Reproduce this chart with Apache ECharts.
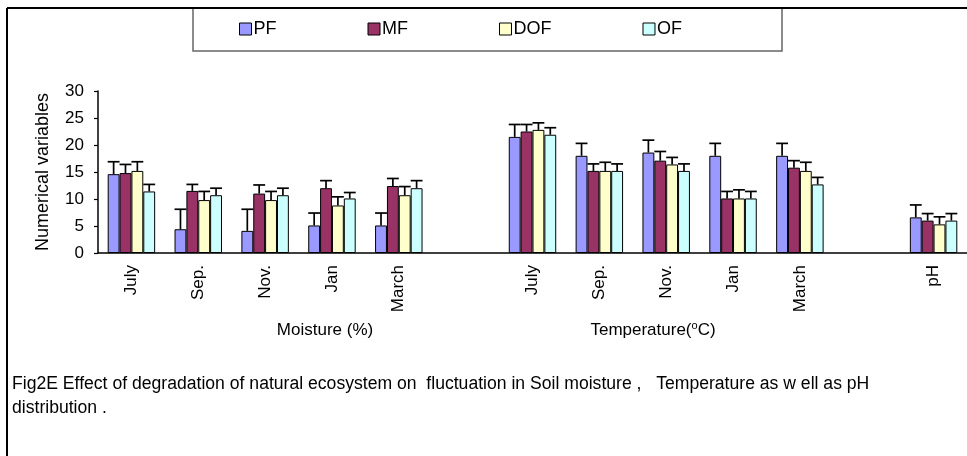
<!DOCTYPE html>
<html>
<head>
<meta charset="utf-8">
<script src="https://cdn.jsdelivr.net/npm/echarts@6/dist/echarts.min.js"></script>
<style>
html,body{margin:0;padding:0;background:#fff;}
#chart{width:967px;height:456px;}
</style>
</head>
<body>
<div id="chart"></div>
<script>
// Categories (blank entries are spacer slots between groups)
var categories = ['July','Sep.','Nov.','Jan','March','','July','Sep.','Nov.','Jan','March','','pH'];
var seriesNames = ['PF','MF','DOF','OF'];
// Means
var pfValues  = [14.6, 4.4, 4.1, 5.1, 5.1, null, 21.5, 18.0, 18.6, 18.0, 18.0, null, 6.6];
var mfValues  = [14.8, 11.5, 11.0, 12.0, 12.4, null, 22.5, 15.2, 17.1, 10.1, 15.8, null, 6.0];
var dofValues = [15.2, 9.8, 9.8, 8.8, 10.7, null, 22.8, 15.2, 16.4, 10.1, 15.2, null, 5.3];
var ofValues  = [11.4, 10.7, 10.7, 10.1, 12.0, null, 21.9, 15.2, 15.2, 10.1, 12.7, null, 6.0];
// Error magnitudes (upper bars)
var pfErr  = [2.3, 3.7, 4.0, 2.3, 2.3, null, 2.3, 2.3, 2.3, 2.3, 2.3, null, 2.3];
var mfErr  = [1.6, 1.2, 1.6, 1.4, 1.4, null, 1.3, 1.3, 1.7, 1.3, 1.3, null, 1.3];
var dofErr = [1.7, 1.6, 1.6, 1.6, 1.6, null, 1.3, 1.6, 1.3, 1.6, 1.6, null, 1.4];
var ofErr  = [1.3, 1.3, 1.3, 1.1, 1.4, null, 1.3, 1.3, 1.3, 1.3, 1.3, null, 1.3];
var yTicks = [0, 5, 10, 15, 20, 25, 30];
var groupLabels = ['Moisture (%)', 'Temperature(', 'o', 'C)'];
var captionLines = ['Fig2E Effect of degradation of natural ecosystem on  fluctuation in Soil moisture ,   Temperature as w ell as pH', 'distribution .'];

var colors = ['#9999FF', '#993366', '#FFFFCC', '#CCFFFF'];
var allValues = [pfValues, mfValues, dofValues, ofValues];
var allErr = [pfErr, mfErr, dofErr, ofErr];
var CAT_GAP = 0.29;
var FONT = 'Liberation Sans, Arial, sans-serif';

var series = [];
seriesNames.forEach(function (name, k) {
  series.push({
    name: name,
    type: 'bar',
    data: allValues[k],
    barGap: '0%',
    barCategoryGap: (CAT_GAP * 100) + '%',
    itemStyle: { color: colors[k], borderColor: '#000', borderWidth: 1 },
    z: 2
  });
});
seriesNames.forEach(function (name, k) {
  var d = [];
  allValues[k].forEach(function (v, i) {
    if (v != null && allErr[k][i] != null) d.push([i, v, allErr[k][i]]);
  });
  series.push({
    type: 'custom',
    data: d,
    z: 3,
    silent: true,
    renderItem: (function (kk) {
      return function (params, api) {
        var idx = api.value(0), v = api.value(1), e = api.value(2);
        var band = api.size([1, 0])[0];
        var bw = band * (1 - CAT_GAP) / 4;
        var base = api.coord([idx, v]);
        var top = api.coord([idx, v + e]);
        var cx = base[0] + (kk - 1.5) * bw;
        return {
          type: 'group',
          children: [
            { type: 'line', shape: { x1: cx, y1: base[1], x2: cx, y2: top[1] }, style: { stroke: '#000', lineWidth: 1.7 } },
            { type: 'line', shape: { x1: cx - bw / 2, y1: top[1], x2: cx + bw / 2, y2: top[1] }, style: { stroke: '#000', lineWidth: 1.7 } }
          ]
        };
      };
    })(k)
  });
});

var chart = echarts.init(document.getElementById('chart'), null, { renderer: 'canvas' });
chart.setOption({
  backgroundColor: '#fff',
  animation: false,
  textStyle: { fontFamily: FONT },
  legend: {
    data: seriesNames,
    left: 239,
    top: 20,
    padding: 0,
    itemWidth: 12,
    itemHeight: 12,
    itemGap: 91,
    icon: 'rect',
    itemStyle: { borderColor: '#000', borderWidth: 1 },
    textStyle: { fontSize: 18, color: '#000', fontFamily: FONT, padding: [0, 0, 0, -3] }
  },
  grid: { left: 98, right: -6, top: 91, bottom: 203, containLabel: false },
  xAxis: {
    type: 'category',
    data: categories,
    axisLine: { lineStyle: { color: '#000', width: 1.5 } },
    axisTick: { inside: true, length: 4, lineStyle: { color: '#000', width: 1.2 } },
    axisLabel: { rotate: 90, fontSize: 17, color: '#000', margin: 12, interval: 0, fontFamily: FONT }
  },
  yAxis: {
    type: 'value',
    min: yTicks[0],
    max: yTicks[yTicks.length - 1],
    interval: yTicks[1] - yTicks[0],
    name: 'Numerical variables',
    nameLocation: 'middle',
    nameGap: 46,
    nameTextStyle: { fontSize: 18, color: '#000', fontFamily: FONT },
    splitLine: { show: false },
    axisLine: { show: true, lineStyle: { color: '#000', width: 1.5 } },
    axisTick: { show: true, length: 4, lineStyle: { color: '#000', width: 1.2 } },
    axisLabel: { fontSize: 17, color: '#000', margin: 14, fontFamily: FONT }
  },
  graphic: [
    { type: 'line', shape: { x1: 7, y1: 8, x2: 967, y2: 8 }, style: { stroke: '#000', lineWidth: 2 }, z: 10 },
    { type: 'line', shape: { x1: 7, y1: 8, x2: 7, y2: 456 }, style: { stroke: '#000', lineWidth: 2 }, z: 10 },
    { type: 'polyline', shape: { points: [[193, 8], [193, 51], [782, 51], [782, 8]] }, style: { stroke: '#666', lineWidth: 1.5, fill: null }, z: 9 },
    { type: 'text', x: 325, y: 330, style: { text: groupLabels[0], fontSize: 17, fill: '#000', font: '17px ' + FONT, align: 'center', verticalAlign: 'middle' } },
    { type: 'text', x: 653, y: 330, style: {
        text: '{a|' + groupLabels[1] + '}{s|' + groupLabels[2] + '}{a|' + groupLabels[3] + '}',
        align: 'center', verticalAlign: 'middle',
        rich: {
          a: { fontSize: 17, fill: '#000', fontFamily: FONT },
          s: { fontSize: 11, fill: '#000', fontFamily: FONT, verticalAlign: 'top', padding: [0, 0, 8, 0] }
        }
    } },
    { type: 'text', x: 12, y: 384, style: { text: captionLines[0], font: '17.6px ' + FONT, fill: '#000', verticalAlign: 'middle' } },
    { type: 'text', x: 12, y: 408, style: { text: captionLines[1], font: '17.6px ' + FONT, fill: '#000', verticalAlign: 'middle' } }
  ],
  series: series
});
</script>
</body>
</html>
